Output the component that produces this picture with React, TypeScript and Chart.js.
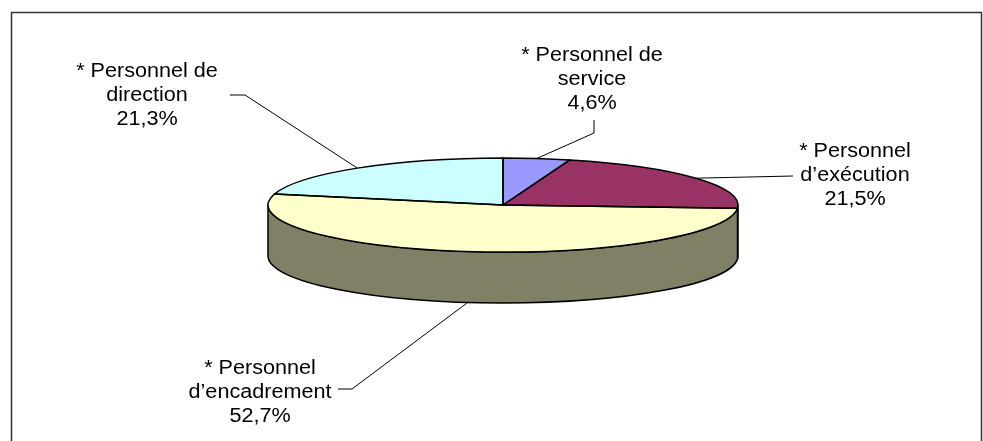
import React, { useEffect, useRef } from "react";
import { Chart, registerables } from "chart.js";

Chart.register(...registerables);

// ---- data ----
const CATEGORY_LINES: string[][] = [
  ["* Personnel de", "service"],
  ["* Personnel", "d’exécution"],
  ["* Personnel", "d’encadrement"],
  ["* Personnel de", "direction"],
];
const VALUES: number[] = [4.6, 21.5, 52.7, 21.3];
const TOP_COLORS: string[] = ["#9999FF", "#993366", "#FFFFCC", "#CCFFFF"];
const SIDE_COLORS: string[] = ["#4D4D80", "#4D1A33", "#808066", "#668080"];

// ---- layout (pixels) ----
const W = 983;
const H = 441;
const CX = 503;
const CY = 205;
const RX = 235;
const RY = 47;
const DEPTH = 51;
const FONT = '20px "Liberation Sans", Arial, sans-serif';
const STRETCH = 1.08;
const LINE_H = 24;

// label block: center x, first line center y, leader start points (elbow path)
const LABEL_LAYOUT = [
  { x: 592, y: 55, leader: [[594, 120], [594, 133]] },
  { x: 855, y: 151, leader: [[793, 176]] },
  { x: 260, y: 368, leader: [[338, 389], [352, 389]] },
  { x: 147, y: 71, leader: [[230, 95], [245, 95]] },
];

const fmt = (v: number) => v.toFixed(1).replace(".", ",") + "%";

const pie3d = {
  id: "pie3d",
  beforeDatasetsDraw(chart: any) {
    const ctx = chart.ctx as CanvasRenderingContext2D;
    const meta = chart.getDatasetMeta(0);
    // side walls (front half only)
    meta.data.forEach((arc: any, i: number) => {
      const s = Math.max(arc.startAngle, 0);
      const e = Math.min(arc.endAngle, Math.PI);
      if (e <= s) return;
      ctx.save();
      ctx.beginPath();
      ctx.ellipse(CX, CY, RX, RY, 0, s, e, false);
      ctx.ellipse(CX, CY + DEPTH, RX, RY, 0, e, s, true);
      ctx.closePath();
      ctx.fillStyle = SIDE_COLORS[i];
      ctx.fill();
      ctx.lineWidth = 1.5;
      ctx.strokeStyle = "#000";
      ctx.lineJoin = "round";
      ctx.stroke();
      ctx.restore();
    });
    // squash library's circular pie into the top ellipse
    const a0 = meta.data[0];
    const r = a0.outerRadius;
    ctx.save();
    ctx.translate(CX, CY);
    ctx.scale(RX / r, RY / r);
    ctx.translate(-a0.x, -a0.y);
  },
  afterDatasetsDraw(chart: any) {
    const ctx = chart.ctx as CanvasRenderingContext2D;
    ctx.restore();
    const meta = chart.getDatasetMeta(0);
    // top outlines
    meta.data.forEach((arc: any) => {
      const s = arc.startAngle;
      const e = arc.endAngle;
      ctx.save();
      ctx.beginPath();
      ctx.moveTo(CX, CY);
      ctx.lineTo(CX + RX * Math.cos(s), CY + RY * Math.sin(s));
      ctx.ellipse(CX, CY, RX, RY, 0, s, e, false);
      ctx.closePath();
      ctx.lineWidth = 1.5;
      ctx.strokeStyle = "#000";
      ctx.lineJoin = "round";
      ctx.stroke();
      ctx.restore();
    });
    // labels + leaders
    meta.data.forEach((arc: any, i: number) => {
      const mid = (arc.startAngle + arc.endAngle) / 2;
      let px = CX + RX * Math.cos(mid);
      let py = CY + RY * Math.sin(mid);
      const sm = Math.sin(mid);
      if (sm > 0.5) py += DEPTH;
      const L = LABEL_LAYOUT[i];
      ctx.save();
      ctx.beginPath();
      ctx.moveTo(L.leader[0][0], L.leader[0][1]);
      for (let k = 1; k < L.leader.length; k++) ctx.lineTo(L.leader[k][0], L.leader[k][1]);
      ctx.lineTo(px, py);
      ctx.lineWidth = 1;
      ctx.strokeStyle = "#000";
      ctx.stroke();
      ctx.restore();

      const lines = [...CATEGORY_LINES[i], fmt(chart.data.datasets[0].data[i])];
      ctx.save();
      ctx.font = FONT;
      ctx.fillStyle = "#000";
      ctx.textAlign = "center";
      ctx.textBaseline = "middle";
      lines.forEach((t, k) => {
        ctx.save();
        ctx.translate(L.x, L.y + k * LINE_H);
        ctx.scale(STRETCH, 1);
        ctx.fillText(t, 0, 0);
        ctx.restore();
      });
      ctx.restore();
    });
  },
  afterDraw(chart: any) {
    const ctx = chart.ctx as CanvasRenderingContext2D;
    ctx.save();
    ctx.strokeStyle = "#333";
    ctx.lineWidth = 1.5;
    ctx.beginPath();
    ctx.moveTo(11.5, H + 5);
    ctx.lineTo(11.5, 12.5);
    ctx.lineTo(981.5, 12.5);
    ctx.lineTo(981.5, H + 5);
    ctx.stroke();
    ctx.restore();
  },
};

export default function App() {
  const ref = useRef<HTMLCanvasElement | null>(null);
  useEffect(() => {
    if (!ref.current) return;
    const chart = new Chart(ref.current, {
      type: "pie",
      data: {
        labels: CATEGORY_LINES.map((l) => l.join(" ")),
        datasets: [
          {
            data: VALUES,
            backgroundColor: TOP_COLORS,
            borderWidth: 0,
          },
        ],
      },
      options: {
        animation: false,
        responsive: false,
        maintainAspectRatio: false,
        devicePixelRatio: 1,
        events: [],
        layout: { padding: 0 },
        plugins: {
          legend: { display: false },
          tooltip: { enabled: false },
        },
      },
      plugins: [pie3d],
    });
    return () => chart.destroy();
  }, []);
  return (
    <div style={{ position: "fixed", left: 0, top: 0, width: W, height: H, background: "#fff" }}>
      <canvas ref={ref} width={W} height={H} style={{ display: "block", width: W, height: H }} />
    </div>
  );
}
